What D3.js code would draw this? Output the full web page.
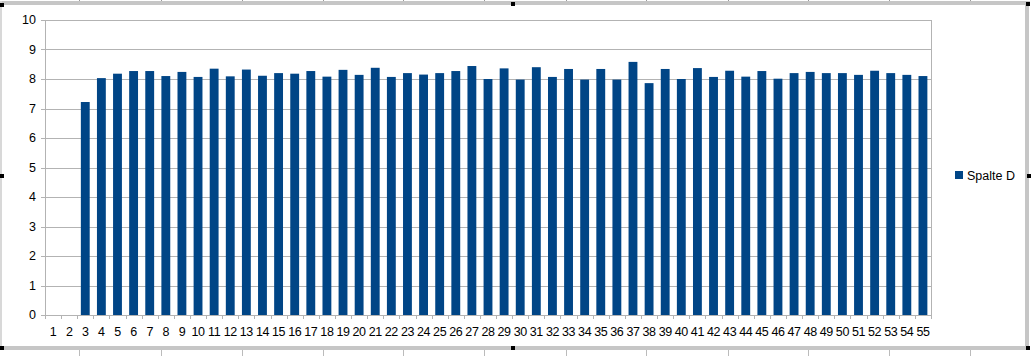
<!DOCTYPE html>
<html>
<head>
<meta charset="utf-8">
<script src="https://cdn.jsdelivr.net/npm/d3@7"></script>
<style>
  html, body { margin: 0; padding: 0; background: #fff; }
  svg { display: block; font-family: "Liberation Sans", Arial, sans-serif; }
</style>
</head>
<body>
<svg id="chart" width="1031" height="356"></svg>
<script>
// category labels 1..55, values start at category 3
const categories = ['1', '2', '3', '4', '5', '6', '7', '8', '9', '10',
  '11', '12', '13', '14', '15', '16', '17', '18', '19', '20',
  '21', '22', '23', '24', '25', '26', '27', '28', '29', '30',
  '31', '32', '33', '34', '35', '36', '37', '38', '39', '40',
  '41', '42', '43', '44', '45', '46', '47', '48', '49', '50',
  '51', '52', '53', '54', '55'];
const spalteD = [null, null, 7.22, 8.03, 8.18, 8.27, 8.27, 8.10, 8.24, 8.07,
  8.35, 8.09, 8.32, 8.11, 8.20, 8.18, 8.27, 8.08, 8.31, 8.14,
  8.38, 8.07, 8.20, 8.15, 8.20, 8.27, 8.44, 8.00, 8.36, 7.98,
  8.40, 8.07, 8.34, 7.98, 8.34, 7.98, 8.58, 7.86, 8.34, 8.00,
  8.37, 8.07, 8.28, 8.08, 8.27, 8.01, 8.20, 8.24, 8.20, 8.20,
  8.14, 8.28, 8.20, 8.14, 8.10];
const yTicks = [0, 1, 2, 3, 4, 5, 6, 7, 8, 9, 10];
const seriesName = 'Spalte D';

const svg = d3.select('#chart');
const plot = { left: 45, right: 931, top: 20, bottom: 315 };
const gridColor = '#b3b3b3';
const barColor = '#004586';

const x = d3.scaleBand()
  .domain(categories)
  .range([plot.left, plot.right])
  .padding(0);
const y = d3.scaleLinear()
  .domain([0, 10])
  .range([plot.bottom, plot.top]);

// horizontal gridlines + y ticks
svg.append('g')
  .selectAll('line')
  .data(yTicks)
  .join('line')
  .attr('x1', plot.left - 4)
  .attr('x2', plot.right)
  .attr('y1', d => Math.round(y(d)) + 0.5)
  .attr('y2', d => Math.round(y(d)) + 0.5)
  .attr('stroke', gridColor);

// plot wall right border
svg.append('line')
  .attr('x1', plot.right + 0.5).attr('x2', plot.right + 0.5)
  .attr('y1', plot.top).attr('y2', plot.bottom)
  .attr('stroke', gridColor);

// bars
const barW = x.bandwidth() * 0.55;
svg.append('g')
  .selectAll('rect')
  .data(categories.map((c, i) => ({ c, v: spalteD[i] })).filter(d => d.v != null))
  .join('rect')
  .attr('x', d => x(d.c) + (x.bandwidth() - barW) / 2)
  .attr('y', d => y(d.v))
  .attr('width', barW)
  .attr('height', d => y(0) - y(d.v))
  .attr('fill', barColor);

// y axis line
svg.append('line')
  .attr('x1', plot.left + 0.5).attr('x2', plot.left + 0.5)
  .attr('y1', plot.top).attr('y2', plot.bottom + 0.5)
  .attr('stroke', gridColor);

// x ticks at category boundaries
svg.append('g')
  .selectAll('line')
  .data(categories.concat(['end']))
  .join('line')
  .attr('x1', (d, i) => Math.round(plot.left + i * x.step()) + 0.5)
  .attr('x2', (d, i) => Math.round(plot.left + i * x.step()) + 0.5)
  .attr('y1', plot.bottom)
  .attr('y2', plot.bottom + 4)
  .attr('stroke', gridColor);

// y labels
svg.append('g')
  .selectAll('text')
  .data(yTicks)
  .join('text')
  .attr('x', 36)
  .attr('y', d => y(d))
  .attr('dy', '0.35em')
  .attr('text-anchor', 'end')
  .attr('font-size', 12.5)
  .attr('fill', '#000')
  .text(d => d);

// x labels
svg.append('g')
  .selectAll('text')
  .data(categories)
  .join('text')
  .attr('x', d => x(d) + x.bandwidth() / 2)
  .attr('y', 332)
  .attr('dy', '0.35em')
  .attr('text-anchor', 'middle')
  .attr('font-size', 12.5)
  .attr('letter-spacing', -0.4)
  .attr('fill', '#000')
  .text(d => d);

// legend
svg.append('rect')
  .attr('x', 955).attr('y', 171)
  .attr('width', 8).attr('height', 8)
  .attr('fill', barColor);
svg.append('text')
  .attr('x', 967).attr('y', 175.5)
  .attr('dy', '0.35em')
  .attr('font-size', 12.5)
  .attr('fill', '#000')
  .text(seriesName);

// spreadsheet selection frame
const frame = svg.append('g');
const frameColor = '#c6c6c6';
frame.append('rect').attr('x', 0).attr('y', 1).attr('width', 1030).attr('height', 4).attr('fill', frameColor);
frame.append('rect').attr('x', 0).attr('y', 346).attr('width', 1030).attr('height', 4).attr('fill', frameColor);
frame.append('rect').attr('x', 1025).attr('y', 1).attr('width', 4).attr('height', 349).attr('fill', frameColor);
frame.append('rect').attr('x', 0).attr('y', 1).attr('width', 2).attr('height', 349).attr('fill', '#d8d8d8');
const colEdges = [79, 161, 242, 323, 403, 484, 566, 646, 728, 808, 889, 970];
frame.selectAll('line.top')
  .data(colEdges)
  .join('line')
  .attr('x1', d => d + 0.5).attr('x2', d => d + 0.5)
  .attr('y1', 0).attr('y2', 1)
  .attr('stroke', '#999');
frame.selectAll('line.bot')
  .data(colEdges)
  .join('line')
  .attr('x1', d => d + 0.5).attr('x2', d => d + 0.5)
  .attr('y1', 350).attr('y2', 356)
  .attr('stroke', '#bbb');
const handles = [[0, 3], [511, 2], [1026, 2], [0, 174], [1027, 174], [0, 346], [511, 346], [1026, 346]];
frame.selectAll('rect.h')
  .data(handles)
  .join('rect')
  .attr('x', d => d[0]).attr('y', d => d[1])
  .attr('width', 4).attr('height', 4)
  .attr('fill', '#000');
</script>
</body>
</html>
